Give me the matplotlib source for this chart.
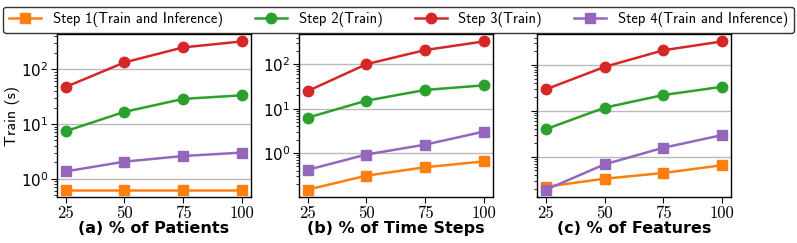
import numpy as np
import matplotlib
matplotlib.use("Agg")
import matplotlib.pyplot as plt

plt.rcParams['mathtext.fontset'] = 'cm'
plt.rcParams['axes.unicode_minus'] = False

pct = [25, 50, 75, 100]
labels = ["Step 1(Train and Inference)", "Step 2(Train)",
          "Step 3(Train)", "Step 4(Train and Inference)"]
titles = ["(a) % of Patients", "(b) % of Time Steps", "(c) % of Features"]

# panel (a) % of patients
a_step1 = [0.63, 0.63, 0.63, 0.63]
a_step2 = [7.4, 16.7, 28.8, 33.5]
a_step3 = [47.7, 134, 252, 324]
a_step4 = [1.36, 2.05, 2.6, 3.0]

# panel (b) % of time steps
b_step1 = [0.15, 0.31, 0.48, 0.65]
b_step2 = [6.3, 15.2, 26.5, 33.7]
b_step3 = [25, 101, 210, 329]
b_step4 = [0.42, 0.93, 1.55, 3.05]

# panel (c) % of features
c_step1 = [0.22, 0.33, 0.44, 0.65]
c_step2 = [4.0, 11.8, 22.3, 33.7]
c_step3 = [29.7, 92, 212, 331]
c_step4 = [0.19, 0.68, 1.57, 2.96]

panels = [(a_step1, a_step2, a_step3, a_step4),
          (b_step1, b_step2, b_step3, b_step4),
          (c_step1, c_step2, c_step3, c_step4)]
colors = ['#ff7f0e', '#2ca02c', '#d62728', '#9467bd']
markers = ['s', 'o', 'o', 's']
msizes = [7, 7.5, 7.5, 7]

fig = plt.figure(figsize=(7.97, 2.43), dpi=100)
lefts = [0.0715, 0.375, 0.674]
axes = []
for i in range(3):
    ax = fig.add_axes([lefts[i], 0.189, 0.243, 0.671])
    axes.append(ax)
    for s in range(4):
        ax.plot(pct, panels[i][s], color=colors[s], marker=markers[s],
                ms=msizes[s], lw=1.8, label=labels[s], zorder=3)
    ax.set_yscale('log')
    ax.set_xticks(pct)
    ax.set_xticklabels([str(p) for p in pct], fontfamily='cmr10', fontsize=12)
    ax.yaxis.grid(True, which='major', color='#bbbbbb', lw=1.0)
    ax.set_axisbelow(True)
    for sp in ax.spines.values():
        sp.set_color('black')
        sp.set_linewidth(1.0)
    ax.tick_params(axis='y', which='major', labelsize=11, length=4, pad=2)
    ax.tick_params(axis='y', which='minor', length=2)
    ax.tick_params(axis='x', length=4, pad=2)
    ax.set_xlabel(titles[i], fontsize=11.5, fontweight='bold', labelpad=0)
    if i == 2:
        ax.tick_params(axis='y', which='both', labelleft=False)

axes[0].set_ylabel("Train (s)", fontfamily='cmss10', fontsize=11.5, labelpad=1)

handles, labs = axes[0].get_legend_handles_labels()
fig.legend(handles, labs, loc='upper center', ncol=4,
           bbox_to_anchor=(0.5, 1.003), frameon=True, edgecolor='black',
           fancybox=True, prop={'family': 'cmss10', 'size': 10.5},
           columnspacing=2.2, handlelength=2.2, handletextpad=0.8,
           borderpad=0.4, bbox_transform=fig.transFigure)

fig.savefig("out.png", dpi=100)
